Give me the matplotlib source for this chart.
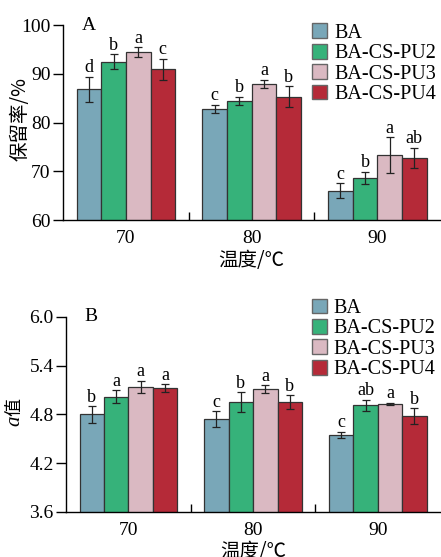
import numpy as np
import matplotlib.pyplot as plt
from matplotlib.ticker import FixedLocator

plt.rcParams['font.family'] = ['Liberation Serif', 'Noto Sans CJK SC', 'DejaVu Sans']

# categories
temps = ['70', '80', '90']
series = ['BA', 'BA-CS-PU2', 'BA-CS-PU3', 'BA-CS-PU4']
colors = ['#79a7b8', '#36b27a', '#dab9c2', '#b52a38']

# panel A: retention rate (%)
ret_mean = [[86.8, 82.8, 66.0],
            [92.5, 84.4, 68.6],
            [94.5, 87.9, 73.3],
            [90.9, 85.3, 72.7]]
ret_err = [[2.6, 0.9, 1.5],
           [1.5, 0.9, 1.3],
           [1.0, 0.9, 3.7],
           [2.2, 2.1, 2.1]]
ret_lab = [['d', 'c', 'c'],
           ['b', 'b', 'b'],
           ['a', 'a', 'a'],
           ['c', 'b', 'ab']]

# panel B: a value
a_mean = [[4.80, 4.74, 4.55],
          [5.02, 4.95, 4.91],
          [5.14, 5.11, 4.93],
          [5.12, 4.95, 4.78]]
a_err = [[0.10, 0.10, 0.035],
         [0.08, 0.12, 0.07],
         [0.075, 0.05, 0.015],
         [0.05, 0.085, 0.10]]
a_lab = [['b', 'c', 'c'],
         ['a', 'b', 'ab'],
         ['a', 'a', 'a'],
         ['a', 'b', 'b']]

fig = plt.figure(figsize=(4.41, 5.57), dpi=100)
axA = fig.add_axes([0.143, 0.605, 0.855, 0.350])
axB = fig.add_axes([0.150, 0.081, 0.848, 0.350])

x = np.arange(len(temps))
w = 0.196
cjk = ['Noto Sans CJK SC', 'DejaVu Sans']


def draw(ax, means, errs, labs, ylim, yticks, fmt, off, letter, leg_top):
    for i, s in enumerate(series):
        pos = x + (i - 1.5) * w
        ax.bar(pos, means[i], w, bottom=0, color=colors[i], edgecolor='#333333',
               linewidth=0.9, label=s, zorder=2)
        ax.errorbar(pos, means[i], yerr=errs[i], fmt='none', ecolor='#222222',
                    elinewidth=0.9, capsize=3, capthick=0.9, zorder=3)
        for p, m, e, t in zip(pos, means[i], errs[i], labs[i]):
            ax.text(p, m + e + off, t, ha='center', va='bottom', fontsize=13)
    ax.set_xlim(-0.5, 2.5)
    ax.set_ylim(*ylim)
    ax.set_yticks(yticks)
    ax.set_yticklabels([fmt.format(v) for v in yticks])
    ax.set_xticks(x)
    ax.set_xticklabels(temps)
    ax.xaxis.set_minor_locator(FixedLocator([0.5, 1.5]))
    ax.tick_params(axis='x', which='major', length=0, labelsize=14, pad=7)
    ax.tick_params(axis='x', which='minor', direction='in', length=6, width=1)
    ax.tick_params(axis='y', direction='out', length=7, width=1, labelsize=14, pad=2)
    for sp in ['top', 'right']:
        ax.spines[sp].set_visible(False)
    for sp in ['left', 'bottom']:
        ax.spines[sp].set_linewidth(1)
    ax.set_xlabel('温度/℃', fontsize=14, labelpad=2, family=cjk)
    ax.text(0.05, 1.0, letter, transform=ax.transAxes, fontsize=14,
            ha='left', va='center')
    leg = ax.legend(loc='upper right', bbox_to_anchor=(1.01, leg_top), frameon=False,
                    fontsize=14.5, handlelength=0.75, handleheight=0.75,
                    handletextpad=0.35, labelspacing=0.05, borderaxespad=0)
    for h in leg.legend_handles:
        h.set_edgecolor('#666666')
        h.set_linewidth(1)


draw(axA, ret_mean, ret_err, ret_lab, (60, 100), [60, 70, 80, 90, 100], '{:.0f}',
     0.1, 'A', 1.05)
draw(axB, a_mean, a_err, a_lab, (3.6, 6.0), [3.6, 4.2, 4.8, 5.4, 6.0], '{:.1f}',
     0.005, 'B', 1.135)

axA.text(-0.114, 0.52, '保留率/%', transform=axA.transAxes, rotation=90,
         fontsize=14, family=cjk, ha='center', va='center')

# a值: italic a followed by 值, rotated
axB.text(-0.137, 0.47, 'a', transform=axB.transAxes, rotation=90, fontsize=15,
         style='italic', ha='center', va='center')
axB.text(-0.137, 0.54, '值', transform=axB.transAxes, rotation=90, fontsize=13,
         family=cjk, ha='center', va='center')

fig.savefig('out.png', dpi=100)
